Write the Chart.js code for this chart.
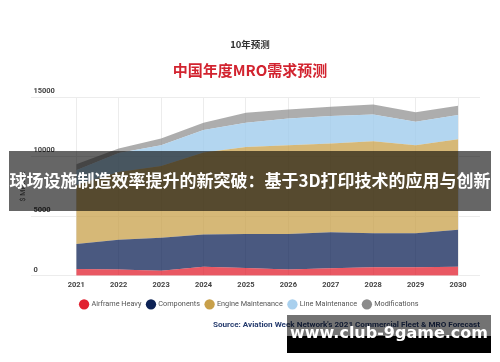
<!DOCTYPE html>
<html>
<head>
<meta charset="utf-8">
<script src="https://cdn.jsdelivr.net/npm/chart.js@4"></script>
<style>
  body { margin: 0; background: #fff; }
  #wrap { position: relative; width: 500px; height: 362px; overflow: hidden; font-family: "Noto Sans CJK SC", "Noto Sans", sans-serif; }
  canvas { position: absolute; left: 0; top: 0; }
  .txt { position: absolute; white-space: nowrap; }
</style>
</head>
<body>
<div id="wrap">
  <canvas id="myChart" width="500" height="362"></canvas>
  <div class="txt" style="left:0;width:500px;top:37px;text-align:center;font-size:9.5px;font-weight:bold;color:#333;">10年预测</div>
  <div class="txt" style="left:0;width:500px;top:59px;text-align:center;font-size:15px;font-weight:bold;color:#d2232f;">中国年度MRO需求预测</div>
  <div class="txt" style="left:213px;top:319px;font-family:'Roboto',sans-serif;font-size:8.1px;font-weight:bold;color:#263c6e;">Source: Aviation Week Network's 2021 Commercial Fleet &amp; MRO Forecast</div>
  <!-- overlay banner -->
  <div class="txt" style="left:9px;top:151px;width:482px;height:60px;background:rgba(0,0,0,0.6);"></div>
  <div class="txt" style="left:0;width:500px;top:168px;text-align:center;font-size:17px;font-weight:bold;color:#fff;line-height:24px;">球场设施制造效率提升的新突破：基于3D打印技术的应用与创新</div>
  <!-- watermark box -->
  <div class="txt" style="left:287px;top:315px;width:204px;height:21px;background:rgba(0,0,0,0.55);"></div>
  <div class="txt" style="left:287px;top:336px;width:204px;height:17px;background:#000;"></div>
  <div class="txt" style="left:287px;top:322px;width:204px;text-align:center;font-family:'DejaVu Sans',sans-serif;font-size:16px;font-weight:bold;color:#fff;line-height:22px;">www.club-9game.com</div>
</div>
<script>
// data (US$ millions, stacked)
var years = [2021, 2022, 2023, 2024, 2025, 2026, 2027, 2028, 2029, 2030];
var airframeHeavy = [570, 510, 420, 760, 650, 510, 620, 700, 700, 760];
var components = [2100, 2500, 2760, 2695, 2860, 3000, 3030, 2865, 2865, 3090];
var engineMaintenance = [4930, 5690, 6020, 6895, 7300, 7445, 7450, 7725, 7390, 7610];
var lineMaintenance = [1250, 1600, 1755, 1870, 2020, 2245, 2300, 2250, 1965, 2020];
var modifications = [500, 380, 565, 610, 850, 760, 780, 840, 790, 790];
var yTicks = [0, 5000, 10000, 15000];

var names = ['Airframe Heavy', 'Components', 'Engine Maintenance', 'Line Maintenance', 'Modifications'];
var solid = ['#e1202f', '#0d2255', '#c8a04a', '#a9d0ee', '#8a8a8a'];
var areas = ['rgba(225,32,47,0.75)', 'rgba(13,34,85,0.75)', 'rgba(200,160,74,0.75)', 'rgba(160,204,236,0.8)', 'rgba(138,138,138,0.7)'];
var series = [airframeHeavy, components, engineMaintenance, lineMaintenance, modifications];

function points(vals) {
    return years.map(function (y, i) { return { x: y, y: vals[i] }; });
}

var datasets = series.map(function (vals, i) {
    return {
        label: names[i],
        data: points(vals),
        backgroundColor: areas[i],
        borderWidth: 0,
        pointRadius: 0,
        fill: i === 0 ? 'origin' : '-1'
    };
});

var ctx = document.getElementById('myChart').getContext('2d');
var chart = new Chart(ctx, {
    type: 'line',
    data: { datasets: datasets },
    options: {
        responsive: false,
        animation: false,
        layout: { padding: { left: 19, right: 20, top: 97, bottom: 44 } },
        plugins: {
            tooltip: { enabled: false },
            legend: {
                position: 'bottom',
                labels: {
                    usePointStyle: true,
                    pointStyle: 'circle',
                    boxWidth: 8,
                    boxHeight: 8,
                    padding: 6,
                    color: '#555',
                    font: { family: 'Roboto', size: 7.3 },
                    generateLabels: function (c) {
                        var items = Chart.defaults.plugins.legend.labels.generateLabels(c);
                        items.forEach(function (it, i) {
                            it.fillStyle = solid[i];
                            it.strokeStyle = solid[i];
                            it.lineWidth = 0;
                        });
                        return items;
                    }
                }
            }
        },
        scales: {
            x: {
                type: 'linear',
                min: 2019.943,
                max: 2030.517,
                afterBuildTicks: function (axis) {
                    axis.ticks = years.map(function (v) { return { value: v }; });
                },
                grid: { color: '#ececec', drawTicks: false },
                border: { display: false },
                ticks: {
                    padding: 5,
                    color: '#444',
                    font: { family: 'Roboto', size: 7.5, weight: 'bold' },
                    callback: function (v) { return String(v); }
                }
            },
            y: {
                stacked: true,
                min: 0,
                max: 15000,
                afterBuildTicks: function (axis) {
                    axis.ticks = yTicks.map(function (v) { return { value: v }; });
                },
                grid: { color: '#ececec', drawTicks: false },
                border: { display: false },
                title: {
                    display: true,
                    text: '$ Millions',
                    color: '#555',
                    padding: 0,
                    font: { family: 'Roboto', size: 7 }
                },
                ticks: {
                    mirror: true,
                    padding: 2,
                    labelOffset: -6,
                    color: '#444',
                    font: { family: 'Roboto', size: 7.5, weight: 'bold' },
                    callback: function (v) { return String(v); }
                }
            }
        }
    }
});
</script>
</body>
</html>
